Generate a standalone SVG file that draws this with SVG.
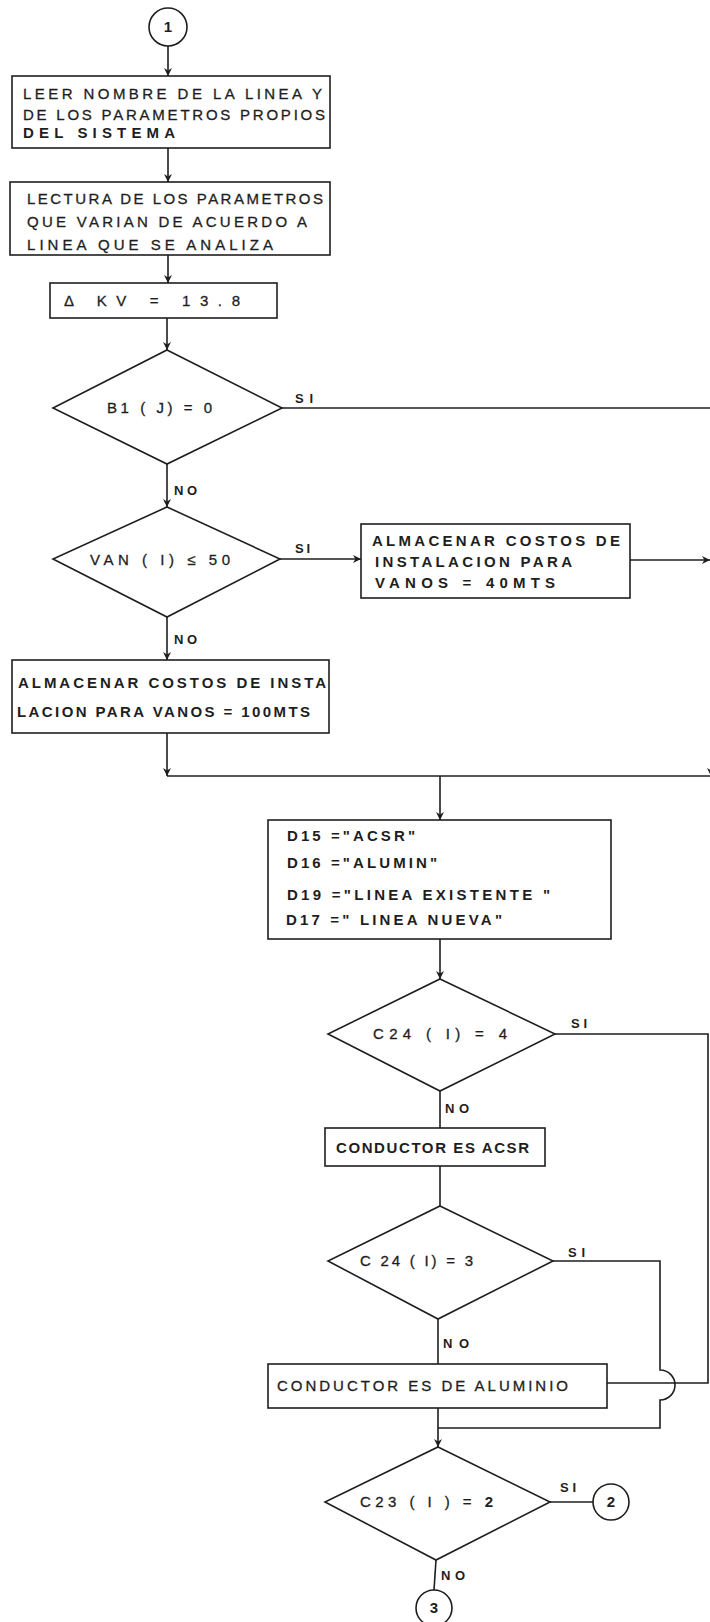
<svg xmlns="http://www.w3.org/2000/svg" width="710" height="1622" viewBox="0 0 710 1622">
<style>
.s{fill:none;stroke:#1e1e1e;stroke-width:1.6}
.t{font-family:"Liberation Sans",Arial,sans-serif;font-size:15px;fill:#1e1e1e;stroke:#1e1e1e;stroke-width:0.3}
.b{font-weight:bold;stroke-width:0}
.l{font-family:"Liberation Sans",Arial,sans-serif;font-size:13px;fill:#1e1e1e;font-weight:bold}
.c{font-family:"Liberation Sans",Arial,sans-serif;font-size:15px;fill:#1e1e1e;text-anchor:middle;font-weight:bold}
</style>
<defs>
<marker id="a" viewBox="0 0 10 10" refX="10" refY="5" markerWidth="8" markerHeight="8" markerUnits="userSpaceOnUse" orient="auto">
<path d="M0,0 L10,5 L0,10 L3,5 Z" fill="#1e1e1e"/>
</marker>
</defs>
<rect width="710" height="1622" fill="#ffffff"/>

<g id="connectors" class="s">
<path d="M168,46 V76" marker-end="url(#a)"/>
<path d="M168,148 V182" marker-end="url(#a)"/>
<path d="M168,255 V283" marker-end="url(#a)"/>
<path d="M167,318 V350" marker-end="url(#a)"/>
<path d="M282,408 H714"/>
<path d="M167,464 V507" marker-end="url(#a)"/>
<path d="M280,559 H361" marker-end="url(#a)"/>
<path d="M630,560 H710" marker-end="url(#a)"/>
<path d="M167,617 V660" marker-end="url(#a)"/>
<path d="M167,733 V776" marker-end="url(#a)"/>
<path d="M167,776 H714"/>
<path d="M711,740 V776" marker-end="url(#a)"/>
<path d="M440,776 V820" marker-end="url(#a)"/>
<path d="M440,939 V979" marker-end="url(#a)"/>
<path d="M555,1034 H708 V1383 H607"/>
<path d="M440,1091 V1128"/>
<path d="M440,1166 V1206"/>
<path d="M553,1261 H660 V1370 A15,15 0 0 1 660,1400 V1428 H438"/>
<path d="M438,1319 V1364"/>
<path d="M438,1408 V1447" marker-end="url(#a)"/>
<path d="M550,1502 H593"/>
<path d="M436,1560 L434,1590"/>
</g>

<g id="c1">
<circle class="s" cx="168" cy="27" r="19"/>
<text class="c" x="168" y="32">1</text>
</g>

<g id="n1">
<rect class="s" x="12" y="76" width="318" height="72"/>
<text class="t" x="23" y="99" textLength="299" lengthAdjust="spacing">LEER NOMBRE DE LA LINEA  Y</text>
<text class="t" x="23" y="120" textLength="302" lengthAdjust="spacing">DE LOS  PARAMETROS PROPIOS</text>
<text class="t b" x="23" y="138" textLength="152" lengthAdjust="spacing">DEL  SISTEMA</text>
</g>

<g id="n2">
<rect class="s" x="10" y="182" width="320" height="73"/>
<text class="t" x="27" y="204" textLength="296" lengthAdjust="spacing">LECTURA DE LOS PARAMETROS</text>
<text class="t" x="27" y="227" textLength="280" lengthAdjust="spacing">QUE VARIAN DE ACUERDO A</text>
<text class="t" x="27" y="250" textLength="246" lengthAdjust="spacing">LINEA  QUE SE ANALIZA</text>
</g>

<g id="n3">
<rect class="s" x="50" y="283" width="227" height="35"/>
<text class="t" x="64" y="306" textLength="176" lengthAdjust="spacing">Δ KV  =   13.8</text>
</g>

<g id="d1">
<polygon class="s" points="167,350 282,408 167,464 53,408"/>
<text class="t" x="107" y="413" textLength="105" lengthAdjust="spacing">B1 ( J) = 0</text>
<text class="l" x="295" y="403" textLength="18" lengthAdjust="spacing">SI</text>
<text class="l" x="174" y="495" textLength="23" lengthAdjust="spacing">NO</text>
</g>

<g id="d2">
<polygon class="s" points="167,507 280,559 167,617 53,559"/>
<text class="t" x="90" y="565" textLength="140" lengthAdjust="spacing">VAN ( I)  ≤ 50</text>
<text class="l" x="295" y="553" textLength="15" lengthAdjust="spacing">SI</text>
<text class="l" x="174" y="644" textLength="23" lengthAdjust="spacing">NO</text>
</g>

<g id="n4">
<rect class="s" x="361" y="524" width="269" height="74"/>
<text class="t b" x="372" y="546" textLength="248" lengthAdjust="spacing">ALMACENAR COSTOS DE</text>
<text class="t b" x="375" y="567" textLength="197" lengthAdjust="spacing">INSTALACION PARA</text>
<text class="t b" x="375" y="588" textLength="180" lengthAdjust="spacing">VANOS =  40MTS</text>
</g>

<g id="n5">
<rect class="s" x="12" y="660" width="317" height="73"/>
<text class="t b" x="18" y="688" textLength="308" lengthAdjust="spacing">ALMACENAR COSTOS DE INSTA</text>
<text class="t b" x="17" y="717" textLength="293" lengthAdjust="spacing">LACION  PARA VANOS = 100MTS</text>
</g>

<g id="n6">
<rect class="s" x="268" y="820" width="343" height="119"/>
<text class="t b" x="287" y="841" textLength="128" lengthAdjust="spacing">D15 ="ACSR"</text>
<text class="t b" x="287" y="868" textLength="150" lengthAdjust="spacing">D16 ="ALUMIN"</text>
<text class="t b" x="287" y="900" textLength="263" lengthAdjust="spacing">D19 ="LINEA  EXISTENTE "</text>
<text class="t b" x="286" y="925" textLength="216" lengthAdjust="spacing">D17 =" LINEA  NUEVA"</text>
</g>

<g id="d3">
<polygon class="s" points="440,979 555,1034 440,1091 328,1034"/>
<text class="t" x="373" y="1039" textLength="134" lengthAdjust="spacing">C24 ( I) = 4</text>
<text class="l" x="571" y="1028" textLength="16" lengthAdjust="spacing">SI</text>
<text class="l" x="445" y="1113" textLength="24" lengthAdjust="spacing">NO</text>
</g>

<g id="n7">
<rect class="s" x="325" y="1128" width="220" height="38"/>
<text class="t b" x="336" y="1153" textLength="193" lengthAdjust="spacing">CONDUCTOR ES ACSR</text>
</g>

<g id="d4">
<polygon class="s" points="440,1206 553,1261 438,1319 328,1261"/>
<text class="t" x="360" y="1266" textLength="113" lengthAdjust="spacing">C 24 ( I) = 3</text>
<text class="l" x="568" y="1257" textLength="17" lengthAdjust="spacing">SI</text>
<text class="l" x="443" y="1348" textLength="26" lengthAdjust="spacing">NO</text>
</g>

<g id="n8">
<rect class="s" x="268" y="1364" width="339" height="44"/>
<text class="t" x="277" y="1391" textLength="291" lengthAdjust="spacing">CONDUCTOR ES  DE  ALUMINIO</text>
</g>

<g id="d5">
<polygon class="s" points="438,1447 550,1502 436,1560 325,1502"/>
<text class="t" x="360" y="1507" textLength="133" lengthAdjust="spacing">C23 ( I ) =  <tspan class="b">2</tspan></text>
<text class="l" x="560" y="1492" textLength="16" lengthAdjust="spacing">SI</text>
<text class="l" x="441" y="1580" textLength="24" lengthAdjust="spacing">NO</text>
</g>

<g id="c2">
<circle class="s" cx="611" cy="1502" r="18"/>
<text class="c" x="611" y="1507">2</text>
</g>

<g id="c3">
<circle class="s" cx="434" cy="1608" r="18"/>
<text class="c" x="434" y="1613">3</text>
</g>
</svg>
